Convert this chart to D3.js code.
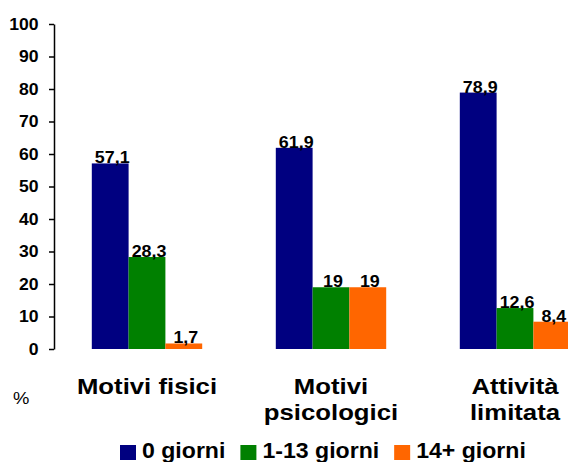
<!DOCTYPE html>
<html><head><meta charset="utf-8">
<script src="https://cdn.jsdelivr.net/npm/d3@7"></script>
<style>
html,body{margin:0;padding:0;background:#fff;}
svg{display:block;font-family:"Liberation Sans",Arial,sans-serif;}
</style></head>
<body><svg id="c" width="568" height="462"></svg>
<script>
const categories = [["Motivi fisici"], ["Motivi", "psicologici"], ["Attività", "limitata"]];
const seriesNames = ["0 giorni", "1-13 giorni", "14+ giorni"];
const zeroGiorni = [57.1, 61.9, 78.9];
const unoTredici = [28.3, 19, 12.6];
const quattordiciPiu = [1.7, 19, 8.4];
const yTicks = [0, 10, 20, 30, 40, 50, 60, 70, 80, 90, 100];
const colors = ["#000080", "#008000", "#FF6600"];

const series = [zeroGiorni, unoTredici, quattordiciPiu];
const fmt = v => String(v).replace(".", ",");

const svg = d3.select("#c");
const y = d3.scaleLinear().domain([0, 100]).range([349, 24]);
const catKeys = categories.map(c => c.join(" "));
const x0 = d3.scaleBand().domain(catKeys).range([55, 607]).paddingInner(0.4).paddingOuter(0.2);
const x1 = d3.scaleBand().domain(seriesNames).range([0, x0.bandwidth()]);

// axis
const ax = svg.append("g").attr("transform", "translate(54,0)")
  .call(d3.axisLeft(y).tickValues(yTicks).tickSize(5).tickSizeOuter(0).tickPadding(9));
ax.select(".domain").attr("stroke", "#000").attr("stroke-width", 1.5);
ax.selectAll(".tick line").attr("stroke", "#000").attr("stroke-width", 1.5);
ax.selectAll(".tick text").attr("fill", "#000").attr("font-size", 16).attr("font-weight", "bold")
  .attr("font-family", "Liberation Sans, Arial, sans-serif")
  .attr("transform", "scale(1.1,1)");

// bars
const groups = svg.append("g").selectAll("g").data(catKeys).join("g")
  .attr("transform", d => `translate(${x0(d)},0)`);
groups.each(function(cat, ci) {
  const g = d3.select(this);
  seriesNames.forEach((s, si) => {
    const v = series[si][ci];
    g.append("rect").attr("x", x1(s)).attr("width", x1.bandwidth())
      .attr("y", y(v)).attr("height", y(0) - y(v)).attr("fill", colors[si]);
  });
  seriesNames.forEach((s, si) => {
    const v = series[si][ci];
    g.append("text")
      .attr("transform", `translate(${x1(s) + x1.bandwidth() / 2 + 2},${y(v)}) scale(1.05,1)`)
      .attr("text-anchor", "middle").attr("font-size", 17).attr("font-weight", "bold")
      .attr("fill", "#000").text(fmt(v));
  });
});

// category labels
categories.forEach((lines, ci) => {
  const cx = x0(catKeys[ci]) + x0.bandwidth() / 2;
  lines.forEach((ln, li) => {
    svg.append("text")
      .attr("transform", `translate(${cx},${394 + li * 26}) scale(1.17,1)`)
      .attr("text-anchor", "middle").attr("font-size", 22).attr("font-weight", "bold")
      .attr("fill", "#000").text(ln);
  });
});

// % label
svg.append("text").attr("transform", "translate(13,404) scale(1.15,1)")
  .attr("font-size", 16).attr("fill", "#000").text("%");

// legend
let lx = 120;
seriesNames.forEach((s, si) => {
  svg.append("rect").attr("x", lx).attr("y", 445).attr("width", 16).attr("height", 15).attr("fill", colors[si]);
  const t = svg.append("text").attr("transform", `translate(${lx + 22},458) scale(1.05,1)`)
    .attr("font-size", 22).attr("font-weight", "bold").attr("fill", "#000").text(s);
  lx += 22 + t.node().getComputedTextLength() * 1.05 + 15;
});
</script></body></html>
